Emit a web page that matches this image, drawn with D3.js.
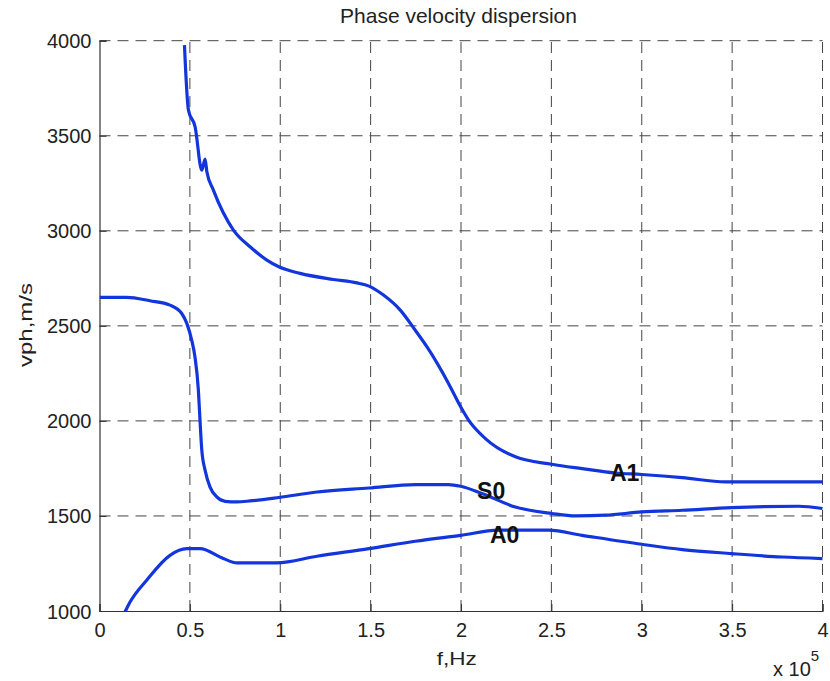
<!DOCTYPE html>
<html><head><meta charset="utf-8">
<script src="https://cdn.jsdelivr.net/npm/d3@7"></script>
<style>body{margin:0;background:#fff}svg{display:block}text{font-family:Arial,"Liberation Sans",sans-serif}</style>
</head><body>
<svg id="c" width="830" height="681"></svg>
<script>
const title = "Phase velocity dispersion";
const xLabel = "f,Hz";
const yLabel = "vph,m/s";
const xTicks = [0, 0.5, 1, 1.5, 2, 2.5, 3, 3.5, 4];
const yTicks = [1000, 1500, 2000, 2500, 3000, 3500, 4000];
// frequency in units of 1e5 Hz, velocity in m/s
const a1F = [0.470,0.492,0.529,0.566,0.584,0.594,0.630,0.741,0.833,0.926,0.992,1.110,1.295,1.424,1.491,1.571,1.664,1.747,1.812,1.931,1.998,2.042,2.135,2.301,2.502,2.670,2.854,3.000,3.224,3.463,4.000];
const a1V = [3977,3635,3547,3319,3377,3311,3214,3004,2916,2846,2811,2776,2744,2726,2709,2662,2583,2477,2389,2197,2074,2004,1907,1811,1772,1749,1726,1718,1702,1679,1679];
const s0F = [0,0.15,0.279,0.390,0.455,0.483,0.510,0.528,0.547,0.556,0.566,0.584,0.611,0.649,0.695,0.760,0.833,0.992,1.203,1.491,1.747,1.931,1.998,2.116,2.301,2.502,2.633,2.799,3.000,3.224,3.497,3.869,4.000];
const s0V = [2650,2650,2632,2609,2565,2513,2425,2337,2162,2004,1846,1741,1653,1600,1577,1574,1579,1597,1626,1647,1665,1665,1656,1618,1547,1513,1500,1504,1521,1530,1544,1551,1539];
const a0F = [0.141,0.169,0.261,0.390,0.483,0.556,0.685,0.760,0.981,1.203,1.491,1.747,1.998,2.208,2.485,2.670,3.000,3.224,3.497,3.777,4.000];
const a0V = [995,1047,1162,1293,1328,1328,1276,1253,1253,1288,1328,1367,1398,1425,1425,1398,1351,1323,1302,1284,1276];
const curveNames = ["A1","S0","A0"];
const labelPos = [[2.824,1683],[2.089,1588],[2.160,1356]];

const svg = d3.select("#c");
const L = 99.5, R = 822.5, T = 40.7, B = 611;
const x = d3.scaleLinear().domain([0,4]).range([L,R]);
const y = d3.scaleLinear().domain([1000,4000]).range([B,T]);

// grid
const g = svg.append("g");
g.selectAll(".vg").data(xTicks.slice(1)).join("line")
  .attr("x1",d=>x(d)).attr("x2",d=>x(d)).attr("y1",B).attr("y2",T)
  .attr("stroke","#444").attr("stroke-width",1).attr("stroke-dasharray","11,7");
g.selectAll(".hg").data(yTicks.slice(1)).join("line")
  .attr("x1",L).attr("x2",R).attr("y1",d=>y(d)).attr("y2",d=>y(d))
  .attr("stroke","#444").attr("stroke-width",1).attr("stroke-dasharray","11,7");

// axes
const xAxis = d3.axisBottom(x).tickValues(xTicks).tickSize(-7).tickPadding(12).tickFormat(d3.format("~g"));
const yAxis = d3.axisLeft(y).tickValues(yTicks).tickSize(-7).tickPadding(8).tickFormat(d3.format("d"));
const gx = svg.append("g").attr("transform",`translate(0,${B})`).call(xAxis);
const gy = svg.append("g").attr("transform",`translate(${L},0)`).call(yAxis);
[gx,gy].forEach(a=>{
  a.select(".domain").attr("stroke","#333").attr("stroke-width",1.2);
  a.selectAll(".tick line").attr("stroke","#333");
  a.selectAll(".tick text").attr("font-size",20).attr("fill","#222").attr("font-family","Arial, 'Liberation Sans', sans-serif");
});
gy.selectAll(".tick text").attr("dy","0.35em");

// clip
svg.append("clipPath").attr("id","clip").append("rect").attr("x",L).attr("y",T-3).attr("width",R-L+2).attr("height",B-T+3);

const line = d3.line().x(d=>x(d[0])).y(d=>y(d[1])).curve(d3.curveMonotoneX);
const series = [d3.zip(a1F,a1V), d3.zip(s0F,s0V), d3.zip(a0F,a0V)];
svg.append("g").attr("clip-path","url(#clip)").selectAll("path").data(series).join("path")
  .attr("d",line)
  .attr("fill","none").attr("stroke","#1236dc").attr("stroke-width",3.2).attr("stroke-linejoin","round");

// curve labels
svg.selectAll(".cl").data(curveNames).join("text")
  .attr("x",(d,i)=>x(labelPos[i][0])).attr("y",(d,i)=>y(labelPos[i][1]))
  .attr("font-size",23).attr("font-weight","bold").attr("fill","#111").text(d=>d);

// title and labels
svg.append("text").attr("x",458.5).attr("y",23).attr("text-anchor","middle").attr("font-size",21).attr("fill","#222").text(title);
svg.append("text").attr("x",456.7).attr("y",665).attr("text-anchor","middle").attr("font-size",19)
  .attr("textLength",40).attr("lengthAdjust","spacingAndGlyphs").attr("fill","#222").text(xLabel);
svg.append("text").attr("transform","translate(32,325) rotate(-90)").attr("text-anchor","middle").attr("font-size",18)
  .attr("textLength",84).attr("lengthAdjust","spacingAndGlyphs").attr("fill","#222").text(yLabel);
const ex = svg.append("text").attr("x",773).attr("y",676).attr("font-size",20).attr("fill","#222");
ex.append("tspan").text("x 10");
ex.append("tspan").attr("dy",-15).attr("font-size",15).text("5");
</script>
</body></html>
